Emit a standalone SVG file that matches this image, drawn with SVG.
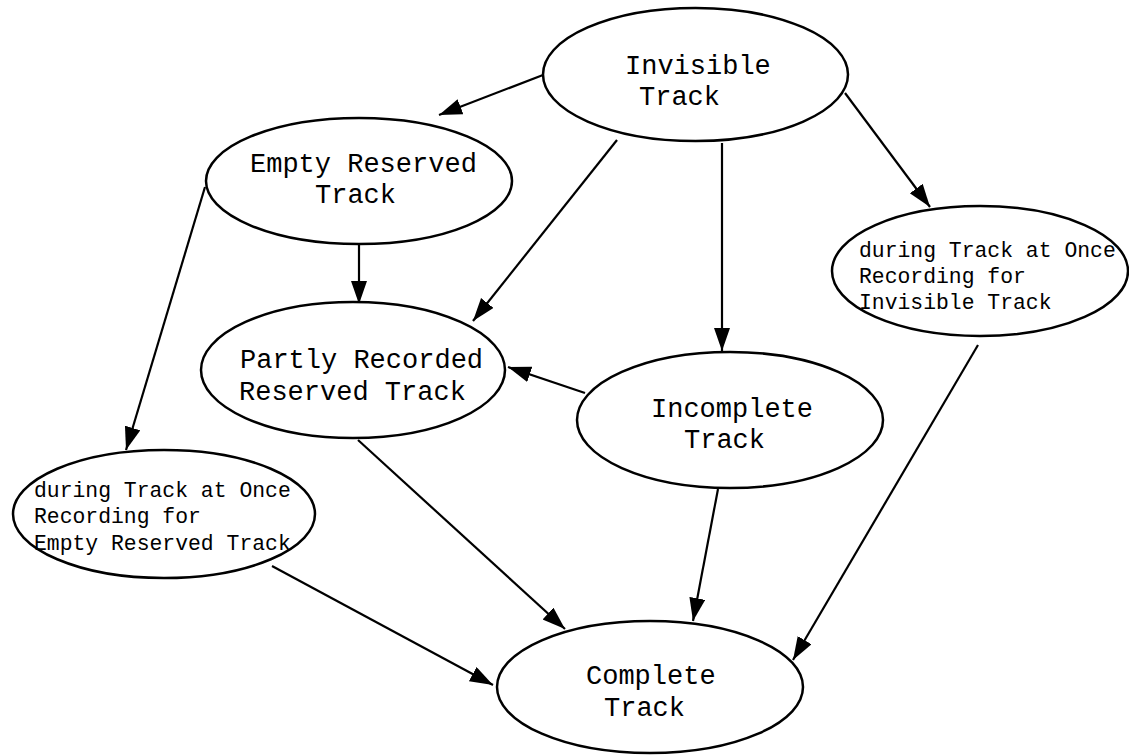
<svg xmlns="http://www.w3.org/2000/svg" width="1129" height="755" viewBox="0 0 1129 755">
<style>
.n ellipse{fill:#fff;stroke:#000;stroke-width:2.5}
.n text{font-family:"Courier New","Nimbus Mono PS","FreeMono","Liberation Mono",monospace;font-size:27px;fill:#000}
.n text.s{font-size:21.4px}
.e line{stroke:#000;stroke-width:2.2;fill:none}
</style>
<defs>
<marker id="ah" markerUnits="userSpaceOnUse" markerWidth="24" markerHeight="17" refX="23" refY="8" orient="auto">
<path d="M0,0 L23,8 L0,16 z" fill="#000"/>
</marker>
</defs>
<rect width="1129" height="755" fill="#fff"/>
<g id="edges" class="e">
<line x1="543" y1="75" x2="439" y2="115" marker-end="url(#ah)"/>
<line x1="617" y1="140" x2="473" y2="321" marker-end="url(#ah)"/>
<line x1="722" y1="143" x2="722" y2="351" marker-end="url(#ah)"/>
<line x1="845" y1="93" x2="930" y2="207" marker-end="url(#ah)"/>
<line x1="359" y1="244" x2="359" y2="304" marker-end="url(#ah)"/>
<line x1="205" y1="187" x2="126" y2="450" marker-end="url(#ah)"/>
<line x1="585" y1="393" x2="508" y2="367" marker-end="url(#ah)"/>
<line x1="358" y1="440" x2="565" y2="629" marker-end="url(#ah)"/>
<line x1="718" y1="489" x2="693" y2="621" marker-end="url(#ah)"/>
<line x1="272" y1="566" x2="493" y2="685" marker-end="url(#ah)"/>
<line x1="978" y1="345" x2="793" y2="660" marker-end="url(#ah)"/>
</g>
<g id="invisible" class="n">
<ellipse cx="695.5" cy="74.5" rx="152.5" ry="66.5"/>
<text x="625" y="74">Invisible</text>
<text x="639" y="105">Track</text>
</g>
<g id="emptyReserved" class="n">
<ellipse cx="359" cy="181" rx="153" ry="63"/>
<text x="250" y="172">Empty Reserved</text>
<text x="315" y="203">Track</text>
</g>
<g id="partlyRecorded" class="n">
<ellipse cx="353" cy="370" rx="152" ry="68"/>
<text x="240" y="368">Partly Recorded</text>
<text x="239" y="400">Reserved Track</text>
</g>
<g id="incomplete" class="n">
<ellipse cx="730" cy="420" rx="153" ry="68"/>
<text x="651" y="417">Incomplete</text>
<text x="684" y="448">Track</text>
</g>
<g id="taoInvisible" class="n">
<ellipse cx="980" cy="271" rx="148" ry="65"/>
<text class="s" x="859" y="257">during Track at Once</text>
<text class="s" x="859" y="283">Recording for</text>
<text class="s" x="859" y="309">Invisible Track</text>
</g>
<g id="taoEmpty" class="n">
<ellipse cx="164" cy="514" rx="151" ry="64"/>
<text class="s" x="34" y="497">during Track at Once</text>
<text class="s" x="34" y="523">Recording for</text>
<text class="s" x="34" y="550">Empty Reserved Track</text>
</g>
<g id="complete" class="n">
<ellipse cx="650" cy="687" rx="153" ry="66"/>
<text x="586" y="684">Complete</text>
<text x="604" y="716">Track</text>
</g>
</svg>
